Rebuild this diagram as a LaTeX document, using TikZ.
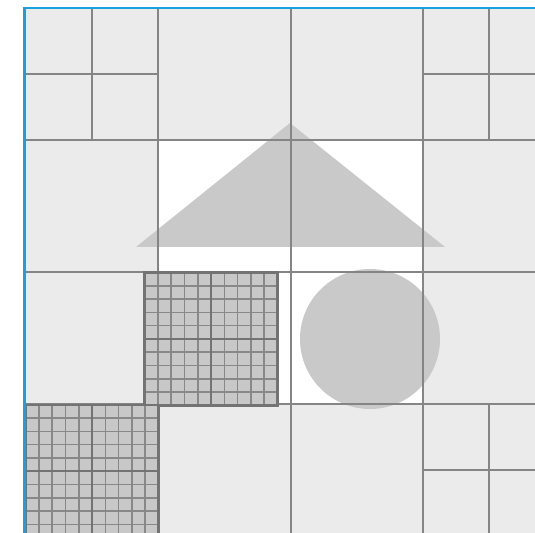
\documentclass[tikz,border=0pt]{standalone}
\definecolor{cellgray}{HTML}{EBEBEB}
\definecolor{shapegray}{HTML}{C8C9C8}
\definecolor{finegray}{HTML}{C8C8C8}
\definecolor{linegray}{HTML}{858585}
\definecolor{minorgray}{HTML}{888888}
\definecolor{majorgray}{HTML}{737373}
\definecolor{borderblue}{HTML}{1A9FDF}
\tikzset{
  coarse/.style={draw=linegray, line width=0.85pt},
  minorline/.style={draw=minorgray, line width=0.8pt},
  majorline/.style={draw=majorgray, line width=1.2pt},
  shapefill/.style={fill=shapegray, draw=none},
  fineblock/.pic={
    \fill[finegray] (0,0) rectangle (133,133);
    \foreach \p in {13.3,26.6,39.9,53.2,79.8,93.1,106.4,119.7} {
      \draw[minorline] (\p,0) -- (\p,133);
      \draw[minorline] (0,\p) -- (133,\p);
    }
    \draw[majorline] (66.5,0) -- (66.5,133);
    \draw[majorline] (0,66.5) -- (133,66.5);
    \draw[majorline] (0,0) rectangle (133,133);
  }
}
\begin{document}
\begin{tikzpicture}[x=0.5pt,y=-0.5pt]
\useasboundingbox (0,0) rectangle (535,533);
\begin{scope}
\clip (0,0) rectangle (535,533);
% background cells
\fill[white] (0,0) rectangle (535,533);
\fill[cellgray] (25,8) rectangle (535,533);
\fill[white] (158,140) rectangle (423,272);
\fill[white] (158,272) rectangle (423,404);
% shapes
\fill[shapefill] (290,123) -- (445,247) -- (136,247) -- cycle;
\fill[shapefill] (370,339) circle[radius=70];
% coarse grid
\foreach \x in {158,291,423} \draw[coarse] (\x,8) -- (\x,533);
\foreach \y in {140,272,404} \draw[coarse] (25,\y) -- (535,\y);
\draw[coarse] (92,8) -- (92,140);
\draw[coarse] (25,74) -- (158,74);
\draw[coarse] (489,8) -- (489,140);
\draw[coarse] (423,74) -- (535,74);
\draw[coarse] (489,404) -- (489,533);
\draw[coarse] (423,470) -- (535,470);
% fine blocks
\pic at (144.5,272.5) {fineblock};
\pic at (25.5,404.8) {fineblock};
% blue border
\draw[borderblue, line width=1.4pt] (24.5,540) -- (24.5,8) -- (540,8);
\end{scope}
\end{tikzpicture}
\end{document}
